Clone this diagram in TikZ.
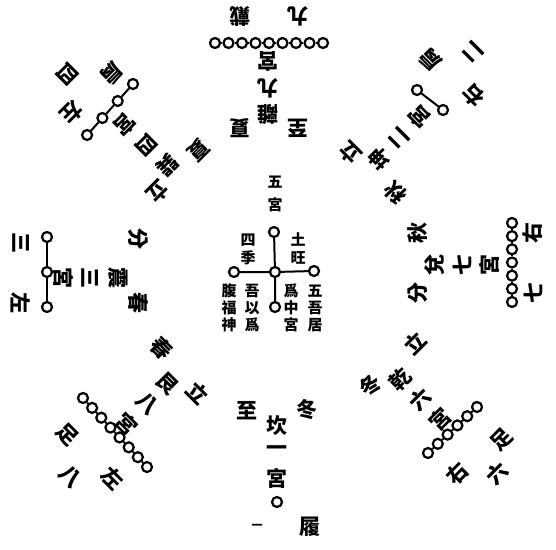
\documentclass[tikz,border=0pt]{standalone}
\usepackage{fontspec}
\newfontfamily\cjk{Noto Sans CJK TC}
\tikzset{zi/.style={inner sep=0pt,font=\cjk\bfseries\fontsize{21}{21}\selectfont},
	 czi/.style={inner sep=0pt,font=\cjk\bfseries\fontsize{15}{15}\selectfont},
	 ring/.style={circle,draw,fill=white,line width=2.2pt,inner sep=0pt,minimum size=10pt},
	 chain/.style={line width=2pt}
	 }

\begin{document}
\begin{tikzpicture}[x=1pt,y=-1pt] % nine palaces
	\useasboundingbox (0,0) rectangle (556,549);
	% south (top)
	\node[zi,rotate=180] (dai) at (240,16) {戴};
	\node[zi,rotate=180] (jiu) at (298,16) {九};
	\foreach \i in {1,...,9} \node[ring] (li\i) at ({201.5+13.5*\i},43) {};
	\node[zi,rotate=180] (ligong) at (268,62) {宮};
	\node[zi,rotate=180] (lijiu) at (268,88) {九};
	\node[zi,rotate=180] (li) at (268,115) {離};
	\node[zi,rotate=180] (xia) at (240,128) {夏};
	\node[zi,rotate=180] (xiazhi) at (298,128) {至};
	% north (bottom)
	\node[zi] (dong) at (307,410) {冬};
	\node[zi] (dongzhi) at (247,411) {至};
	\node[zi] (kan) at (277,426) {坎};
	\node[zi] (kanyi) at (277,451) {一};
	\node[zi] (kangong) at (277,478) {宮};
	\node[ring] (kan1) at (277,502) {};
	\node[zi] (lv) at (310,527) {履};
	\node[zi,font=\cjk\bfseries\fontsize{11}{11}\selectfont] (yi) at (257,527) {一};
	% east (left)
	\node[zi,rotate=-90] (zhen) at (118,278) {震};
	\node[zi,rotate=-90] (zhensan) at (90,278) {三};
	\node[zi,rotate=-90] (zhengong) at (64,278) {宮};
	\node[zi,rotate=-90] (chunfen) at (138,303) {春};
	\node[zi,rotate=-90] (fen) at (138,239) {分};
	\foreach \i in {1,...,3} \node[ring] (zhen\i) at (47,{202+35*\i}) {};
	\node[zi,rotate=-90] (zuo) at (21,303) {左};
	\node[zi,rotate=-90] (san) at (21,243) {三};
	% west (right)
	\node[zi,rotate=90] (dui) at (435,265) {兌};
	\node[zi,rotate=90] (duiqi) at (462,265) {七};
	\node[zi,rotate=90] (duigong) at (489,265) {宮};
	\node[zi,rotate=90] (qiu) at (418,233) {秋};
	\node[zi,rotate=90] (qiufen) at (418,293) {分};
	\foreach \i in {1,...,7} \node[ring] (dui\i) at (512,{209.8+13.17*\i}) {};
	\node[zi,rotate=90] (you) at (533,233) {右};
	\node[zi,rotate=90] (qi) at (533,293) {七};
	% south-east (top left)
	\node[zi,rotate=-135] (xun) at (167,165) {巽};
	\node[zi,rotate=-135] (xunsi) at (146,145) {四};
	\node[zi,rotate=-135] (xungong) at (125,125) {宮};
	\node[zi,rotate=-135] (lixia) at (158,192) {立};
	\node[zi,rotate=-135] (xiax) at (198,150) {夏};
	\foreach \i in {1,...,4} \node[ring] (xun\i) at ({148.3-15.3*\i},{67+17*\i}) {};
	\node[zi,rotate=-135] (jian) at (112,74) {肩};
	\node[zi,rotate=-135] (si) at (67,74) {四};
	\node[zi,rotate=-135] (zuojian) at (72,113) {左};
	% south-west (top right)
	\node[zi,rotate=135] (kun) at (379,159) {坤};
	\node[zi,rotate=135] (kuner) at (399,138) {二};
	\node[zi,rotate=135] (kungong) at (419,117) {宮};
	\node[zi,rotate=135] (liqiu) at (350,153) {立};
	\node[zi,rotate=135] (qiux) at (395,193) {秋};
	\node[ring] (kun1) at (417,90) {};
	\node[ring] (kun2) at (443,110) {};
	\node[zi,rotate=135] (jianr) at (430,60) {肩};
	\node[zi,rotate=135] (er) at (473,52) {二};
	\node[zi,rotate=135] (youjian) at (473,96) {右};
	% north-east (bottom left)
	\node[zi,rotate=-45] (gen) at (167,384) {艮};
	\node[zi,rotate=-45] (genba) at (147,404) {八};
	\node[zi,rotate=-45] (gengong) at (127,424) {宮};
	\node[zi,rotate=-45] (chun) at (162,348) {春};
	\node[zi,rotate=-45] (lichun) at (198,393) {立};
	\foreach \i in {1,...,8} \node[ring] (gen\i) at ({73.86+9.14*\i},{388.14+9.86*\i}) {};
	\node[zi,rotate=-45] (zu) at (67,435) {足};
	\node[zi,rotate=-45] (ba) at (70,477) {八};
	\node[zi,rotate=-45] (zuozu) at (113,478) {左};
	% north-west (bottom right)
	\node[zi,rotate=45] (qian) at (400,379) {乾};
	\node[zi,rotate=45] (qianliu) at (420,399) {六};
	\node[zi,rotate=45] (qiangong) at (440,419) {宮};
	\node[zi,rotate=45] (lidong) at (415,343) {立};
	\node[zi,rotate=45] (dongx) at (370,385) {冬};
	\foreach \i in {1,...,6} \node[ring] (qian\i) at ({486.8-9.8*\i},{397.8+9.2*\i}) {};
	\node[zi,rotate=45] (zur) at (502,440) {足};
	\node[zi,rotate=45] (liu) at (497,473) {六};
	\node[zi,rotate=45] (youzu) at (457,473) {右};
	% centre
	\node[ring] (c0) at (275,272) {};
	\node[ring] (cn) at (274,232) {};
	\node[ring] (cw) at (234,272) {};
	\node[ring] (ce) at (314,271) {};
	\node[ring] (cs) at (275,307) {};
	\node[czi] (wu) at (275,182) {五};
	\node[czi] (wugong) at (275,205) {宮};
	\node[czi] (si4) at (248,240) {四};
	\node[czi] (ji) at (248,258) {季};
	\node[czi] (tu) at (298,239) {土};
	\node[czi] (wang) at (298,258) {旺};
	\foreach \t [count=\k] in {五,吾,居} \node[czi] (ja\k) at (315,{274+17*\k}) {\t};
	\foreach \t [count=\k] in {爲,中,宮} \node[czi] (jb\k) at (291,{274+17*\k}) {\t};
	\foreach \t [count=\k] in {吾,以,爲} \node[czi] (jc\k) at (252,{274+17*\k}) {\t};
	\foreach \t [count=\k] in {腹,福,神} \node[czi] (jd\k) at (229,{274+17*\k}) {\t};
	% links
	\foreach \i [remember=\i as \j (initially 1)] in {2,...,9} \draw[chain] (li\j) -- (li\i);
	\foreach \i [remember=\i as \j (initially 1)] in {2,...,7} \draw[chain] (dui\j) -- (dui\i);
	\foreach \i [remember=\i as \j (initially 1)] in {2,...,8} \draw[chain] (gen\j) -- (gen\i);
	\foreach \i [remember=\i as \j (initially 1)] in {2,...,6} \draw[chain] (qian\j) -- (qian\i);
	\foreach \i [remember=\i as \j (initially 1)] in {2,...,4} \draw[chain] (xun\j) -- (xun\i);
	\draw[chain] (zhen1) -- (zhen2) -- (zhen3);
	\draw[chain] (kun1) -- (kun2);
	\draw[chain] (cw) -- (c0) -- (ce);
	\draw[chain] (cn) -- (c0) -- (cs);
\end{tikzpicture}
\end{document}
